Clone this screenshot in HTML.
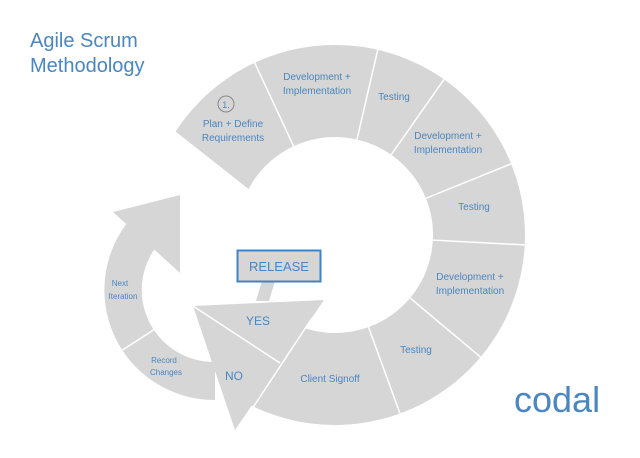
<!DOCTYPE html>
<html><head><meta charset="utf-8"><style>
html,body{margin:0;padding:0;background:#fff;}
svg{display:block;}
text{font-family:"Liberation Sans",sans-serif;fill:#4a86bf;}
</style></head><body>
<svg width="640" height="458" viewBox="0 0 640 458" xmlns="http://www.w3.org/2000/svg">
<rect width="640" height="458" fill="#fff"/>
<text x="30" y="47" font-size="20">Agile Scrum</text>
<text x="30" y="72" font-size="20">Methodology</text>
<text x="514" y="412" font-size="36" fill="#3a8dd0">codal</text>

<path d="M215 400 A110 110 0 0 1 133 216 L161 241 A72 72 0 0 0 215 362 Z" fill="#d6d6d6"/>
<polygon points="113,212 180,195 180,273" fill="#d6d6d6"/>
<line x1="122.7" y1="349.9" x2="154.6" y2="329.2" stroke="#fff" stroke-width="1.5"/>

<path d="M175.6 131.5 A190 190 0 1 1 226 390.6 L278.8 315.3 A98 98 0 1 0 248.5 189 Z" fill="#d6d6d6"/>
<g stroke="#fff" stroke-width="1.5">
<line x1="293.6" y1="146.2" x2="254.7" y2="62.8"/>
<line x1="357" y1="139.5" x2="377.7" y2="49.9"/>
<line x1="391.2" y1="154.7" x2="444" y2="79.4"/>
<line x1="425.9" y1="198.3" x2="511.2" y2="163.8"/>
<line x1="432.9" y1="240.1" x2="524.7" y2="244.9"/>
<line x1="410.1" y1="298" x2="480.5" y2="357.1"/>
<line x1="368.5" y1="327.1" x2="400" y2="413.5"/>
</g>

<polygon points="262,281 275,281 269,301 256,301" fill="#d6d6d6"/>
<polygon points="193,306 324,300 235,430" fill="#d6d6d6"/>
<line x1="193" y1="306" x2="280" y2="363" stroke="#fff" stroke-width="1.5"/>
<line x1="250" y1="412" x2="312" y2="318" stroke="#fff" stroke-width="1.5"/>

<rect x="237.5" y="250.5" width="83" height="31" fill="#d6d6d6" stroke="#3f84c4" stroke-width="2"/>
<text x="279" y="271" font-size="13" text-anchor="middle">RELEASE</text>

<g font-size="10" text-anchor="middle">
<circle cx="226" cy="104" r="8" fill="none" stroke="#888" stroke-width="1"/>
<text x="226" y="108" font-size="9" fill="#666">1.</text>
<text x="233" y="127">Plan + Define</text>
<text x="233" y="141">Requirements</text>
<text x="317" y="80">Development +</text>
<text x="317" y="94">Implementation</text>
<text x="394" y="100">Testing</text>
<text x="448" y="139">Development +</text>
<text x="448" y="153">Implementation</text>
<text x="474" y="210">Testing</text>
<text x="470" y="280">Development +</text>
<text x="470" y="294">Implementation</text>
<text x="416" y="353">Testing</text>
<text x="330" y="382">Client Signoff</text>
<text x="120" y="286" font-size="8">Next</text>
<text x="123" y="299" font-size="8">Iteration</text>
<text x="164" y="363" font-size="8">Record</text>
<text x="166" y="375" font-size="8">Changes</text>
<text x="258" y="325" font-size="12">YES</text>
<text x="234" y="380" font-size="12">NO</text>
</g>
</svg>
</body></html>
